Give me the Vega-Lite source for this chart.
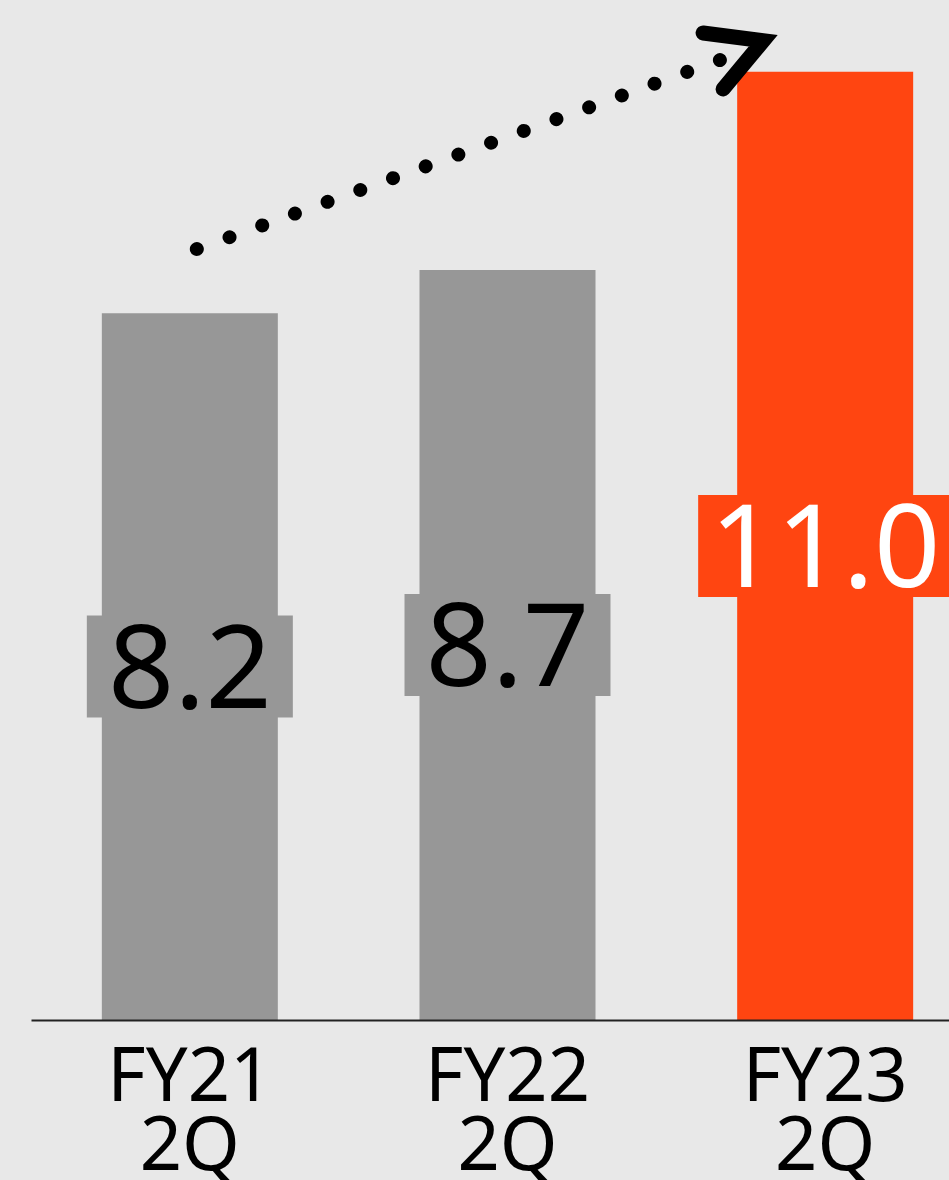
{
  "$schema": "https://vega.github.io/schema/vega-lite/v6.json",
  "width": 953,
  "height": 1020,
  "autosize": {"type": "none"},
  "padding": {"left": 31, "top": 0, "right": 0, "bottom": 160},
  "background": "#e8e8e8",
  "config": {"view": {"stroke": null}, "font": "Noto Sans"},
  "datasets": {
    "bars": [
      {"period": "FY21 2Q", "value": 8.2, "label": "8.2", "highlight": false},
      {"period": "FY22 2Q", "value": 8.7, "label": "8.7", "highlight": false},
      {"period": "FY23 2Q", "value": 11.0, "label": "11.0", "highlight": true}
    ],
    "dots": [
      {"u": 0.522, "v": 8.944},
      {"u": 2.1693, "v": 11.137}
    ],
    "head": [
      {"u": 2.1157, "v": 11.45, "o": 1},
      {"u": 2.305, "v": 11.36, "o": 2},
      {"u": 2.1787, "v": 10.80, "o": 3}
    ]
  },
  "resolve": {"scale": {"x": "independent", "y": "independent", "color": "independent"}},
  "layer": [
    {
      "data": {"name": "bars"},
      "mark": {"type": "bar"},
      "encoding": {
        "x": {
          "field": "period", "type": "nominal", "sort": null,
          "scale": {"paddingInner": 0.446, "paddingOuter": 0.223},
          "axis": {
            "title": null, "ticks": false, "labelAngle": 0,
            "labelExpr": "split(datum.value, ' ')",
            "labelFont": "Noto Sans", "labelFontSize": 74, "labelLineHeight": 69,
            "labelColor": "#000000", "labelBaseline": "top", "labelPadding": 22,
            "domainColor": "#222222", "domainWidth": 2, "zindex": 1
          }
        },
        "y": {"field": "value", "type": "quantitative", "scale": {"domain": [0, 11.833], "nice": false}, "axis": null},
        "color": {"field": "highlight", "type": "nominal", "scale": {"domain": [false, true], "range": ["#979797", "#ff4511"]}, "legend": null}
      }
    },
    {
      "data": {"name": "bars"},
      "transform": [{"filter": "!datum.highlight"}],
      "mark": {"type": "bar", "width": 206, "yOffset": -51, "y2Offset": 51, "color": "#979797"},
      "encoding": {
        "x": {"field": "period", "type": "nominal", "sort": null, "scale": {"domain": ["FY21 2Q", "FY22 2Q", "FY23 2Q"], "paddingInner": 0.446, "paddingOuter": 0.223}, "axis": null},
        "y": {"field": "value", "type": "quantitative", "scale": {"domain": [0, 23.666], "nice": false}, "axis": null},
        "y2": {"field": "value"}
      }
    },
    {
      "data": {"name": "bars"},
      "transform": [{"filter": "datum.highlight"}],
      "mark": {"type": "bar", "width": 254, "yOffset": -51, "y2Offset": 51, "color": "#ff4511"},
      "encoding": {
        "x": {"field": "period", "type": "nominal", "sort": null, "scale": {"domain": ["FY21 2Q", "FY22 2Q", "FY23 2Q"], "paddingInner": 0.446, "paddingOuter": 0.223}, "axis": null},
        "y": {"field": "value", "type": "quantitative", "scale": {"domain": [0, 23.666], "nice": false}, "axis": null},
        "y2": {"field": "value"}
      }
    },
    {
      "data": {"name": "bars"},
      "mark": {"type": "text", "fontSize": 116, "font": "Noto Sans", "align": "center", "baseline": "middle", "dy": 6},
      "encoding": {
        "x": {"field": "period", "type": "nominal", "sort": null, "scale": {"domain": ["FY21 2Q", "FY22 2Q", "FY23 2Q"], "paddingInner": 0.446, "paddingOuter": 0.223}, "axis": null},
        "y": {"field": "value", "type": "quantitative", "scale": {"domain": [0, 23.666], "nice": false}, "axis": null},
        "text": {"field": "label"},
        "color": {"field": "highlight", "type": "nominal", "scale": {"domain": [false, true], "range": ["#000000", "#ffffff"]}, "legend": null}
      }
    },
    {
      "data": {"name": "dots"},
      "mark": {"type": "line", "color": "#000000", "strokeWidth": 14, "strokeCap": "round", "strokeDash": [0.01, 34.75]},
      "encoding": {
        "x": {"field": "u", "type": "quantitative", "scale": {"domain": [0, 3], "nice": false, "zero": false}, "axis": null},
        "y": {"field": "v", "type": "quantitative", "scale": {"domain": [0, 11.833], "nice": false}, "axis": null}
      }
    },
    {
      "data": {"name": "head"},
      "mark": {"type": "line", "color": "#000000", "strokeWidth": 15, "strokeCap": "round", "strokeJoin": "miter"},
      "encoding": {
        "x": {"field": "u", "type": "quantitative", "scale": {"domain": [0, 3], "nice": false, "zero": false}, "axis": null},
        "y": {"field": "v", "type": "quantitative", "scale": {"domain": [0, 11.833], "nice": false}, "axis": null},
        "order": {"field": "o", "type": "quantitative"}
      }
    }
  ]
}
